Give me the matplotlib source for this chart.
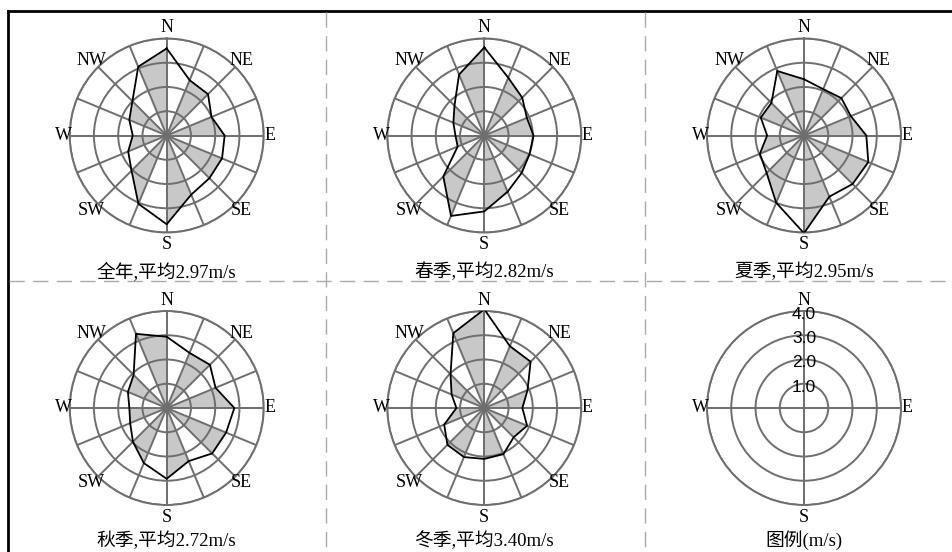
import numpy as np
import matplotlib
matplotlib.use("Agg")
import matplotlib.pyplot as plt

plt.rcParams["font.family"] = ["Liberation Serif", "Noto Sans CJK SC"]

# 16 directions, clockwise from N
directions = ["N", "NNE", "NE", "ENE", "E", "ESE", "SE", "SSE",
              "S", "SSW", "SW", "WSW", "W", "WNW", "NW", "NNW"]

# mean wind speed per direction (m/s)
speed_year = [3.59, 2.47, 2.41, 2.00, 2.39, 2.47, 2.49, 2.64,
              3.66, 3.05, 2.05, 1.72, 1.40, 1.67, 2.00, 3.07]
speed_spring = [3.63, 2.58, 2.21, 1.90, 2.03, 2.02, 2.18, 2.51,
                3.13, 3.59, 2.39, 1.19, 1.19, 1.38, 1.74, 2.72]
speed_summer = [2.32, 2.07, 2.18, 2.09, 2.57, 2.87, 2.83, 2.73,
                4.03, 3.00, 2.18, 1.97, 1.52, 1.93, 1.90, 2.88]
speed_autumn = [2.94, 2.46, 2.52, 2.18, 2.79, 2.65, 2.65, 2.37,
                2.92, 2.46, 1.97, 1.63, 1.54, 1.73, 1.93, 3.31]
speed_winter = [4.07, 2.76, 2.70, 1.93, 1.57, 1.91, 1.71, 2.06,
                2.10, 2.19, 2.15, 1.79, 1.15, 1.46, 1.97, 3.34]

titles = ["全年,平均2.97m/s", "春季,平均2.82m/s", "夏季,平均2.95m/s",
          "秋季,平均2.72m/s", "冬季,平均3.40m/s"]
series = [speed_year, speed_spring, speed_summer, speed_autumn, speed_winter]

ring_values = [1.0, 2.0, 3.0, 4.0]
legend_title = "图例(m/s)"

W, H = 953, 552
R = 97  # rose radius in px
col_x = [166.7, 484.3, 804.0]
row_y = [135.5, 408.0]
title_y = [-0.205, -0.183]  # axes fraction, per row

grid_col = "#6e6e6e"
fill_col = "#c8c8c8"

fig = plt.figure(figsize=(W / 100, H / 100), dpi=100)

# frame and dashed separators
bg = fig.add_axes([0, 0, 1, 1])
bg.set_xlim(0, W)
bg.set_ylim(H, 0)
bg.axis("off")
bg.plot([8, 8], [H, 10.5], color="black", lw=2)
bg.plot([8, W], [10.5, 10.5], color="black", lw=2)
for x in [326, 645]:
    bg.plot([x, x], [11.5, H], color="#aaaaaa", lw=1, dashes=(11, 6))
bg.plot([9, W], [281, 281], color="#aaaaaa", lw=1, dashes=(11, 6))


def make_polar(cx, cy):
    ax = fig.add_axes([(cx - R) / W, 1 - (cy + R) / H, 2 * R / W, 2 * R / H],
                      projection="polar")
    ax.set_theta_zero_location("N")
    ax.set_theta_direction(-1)
    ax.set_ylim(0, 4)
    ax.set_yticks(ring_values)
    ax.set_yticklabels([])
    ax.grid(True, color=grid_col, lw=1.4)
    ax.set_axisbelow(False)
    ax.spines["polar"].set_color(grid_col)
    ax.spines["polar"].set_linewidth(1.4)
    ax.patch.set_alpha(0)
    ax.tick_params(length=0)
    return ax


label_r = {"N": 4.45, "S": 4.5, "E": 4.25, "W": 4.25,
           "NE": 4.37, "NW": 4.37, "SE": 4.37, "SW": 4.37}

theta = np.deg2rad(np.arange(16) * 22.5)

for k, (vals, title) in enumerate(zip(series, titles)):
    cx = col_x[k % 3]
    cy = row_y[k // 3]
    ax = make_polar(cx, cy)
    ax.set_xticks(theta)
    ax.set_xticklabels([])
    v = np.array(vals)
    # alternate shaded sectors
    for i in range(1, 16, 2):
        j = (i + 1) % 16
        ax.fill([0, theta[i], theta[j]], [0, v[i], v[j]],
                color=fill_col, lw=0, zorder=1)
    ax.plot(np.append(theta, theta[0]), np.append(v, v[0]),
            color="black", lw=1.3, zorder=3)
    for d, name in enumerate(directions):
        if name in label_r:
            ax.text(theta[d], label_r[name], name, ha="center", va="center",
                    fontsize=13, clip_on=False)
    ax.text(0.5, title_y[k // 3], title, transform=ax.transAxes,
            ha="center", va="center", fontsize=13.5)

# legend panel
ax = make_polar(col_x[2], row_y[1])
ax.set_xticks(np.deg2rad([0, 90, 180, 270]))
ax.set_xticklabels([])
for name, deg in zip(["N", "E", "S", "W"], [0, 90, 180, 270]):
    ax.text(np.deg2rad(deg), label_r[name], name, ha="center", va="center",
            fontsize=13, clip_on=False)
for rv in ring_values:
    ax.text(0, rv - 0.14, f"{rv:.1f}", ha="center", va="center",
            fontsize=12.5, family="Liberation Sans", clip_on=False)
ax.text(0.5, title_y[1], legend_title, transform=ax.transAxes, ha="center",
        va="center", fontsize=13.5)

fig.savefig("out.png", dpi=100)
